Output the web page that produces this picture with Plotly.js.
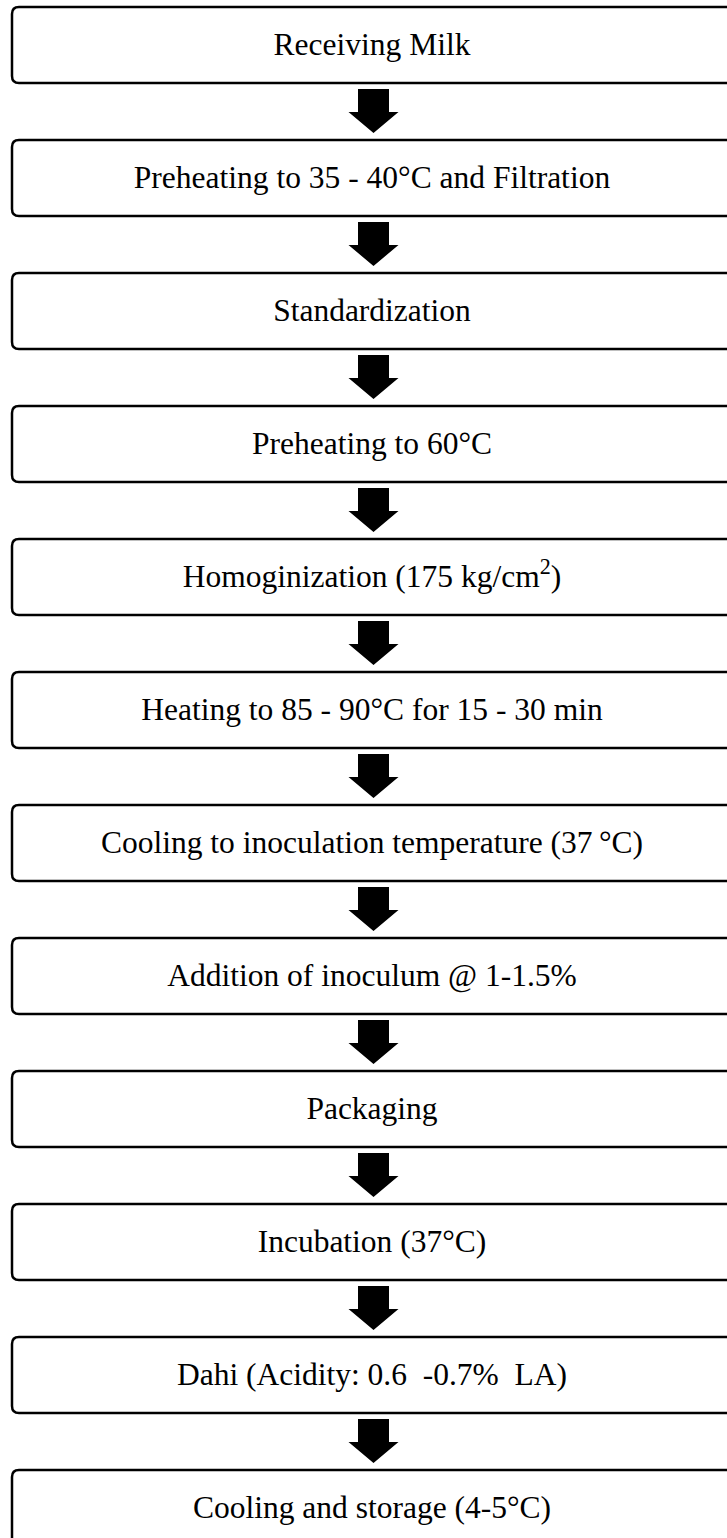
<!DOCTYPE html>
<html>
<head>
<meta charset="utf-8">
<script src="https://cdn.plot.ly/plotly-3.0.1.min.js"></script>
<style>
html,body{margin:0;padding:0;background:#fff;}
#chart{width:727px;height:1538px;}
</style>
</head>
<body>
<div id="chart"></div>
<script>
// Flowchart steps (top to bottom)
var steps = [
  "Receiving Milk",
  "Preheating to 35 - 40°C and Filtration",
  "Standardization",
  "Preheating to 60°C",
  "Homoginization (175 kg/cm<sup>2</sup>)",
  "Heating to 85 - 90°C for 15 - 30 min",
  "Cooling to inoculation temperature (37\u2009°C)",
  "Addition of inoculum @ 1-1.5%",
  "Packaging",
  "Incubation (37°C)",
  "Dahi (Acidity: 0.6 \u00A0-0.7% \u00A0LA)",
  "Cooling and storage (4-5°C)"
];
var stepOrder = [1,2,3,4,5,6,7,8,9,10,11,12];

// layout geometry (pixels in data units)
var W = 727, H = 1538;
var firstTop = 7, pitch = 133, boxH = 76;
var boxX0 = 12, boxX1 = 734, radius = 7;
var cx = 373.5;

function roundRect(x0, y0, x1, y1, r) {
  return 'M' + (x0 + r) + ',' + y0 +
    ' H' + (x1 - r) + ' Q' + x1 + ',' + y0 + ' ' + x1 + ',' + (y0 + r) +
    ' V' + (y1 - r) + ' Q' + x1 + ',' + y1 + ' ' + (x1 - r) + ',' + y1 +
    ' H' + (x0 + r) + ' Q' + x0 + ',' + y1 + ' ' + x0 + ',' + (y1 - r) +
    ' V' + (y0 + r) + ' Q' + x0 + ',' + y0 + ' ' + (x0 + r) + ',' + y0 + ' Z';
}
function arrow(yb) {
  var s0 = yb + 6, h0 = yb + 29, tip = yb + 50;
  var sw = 15.5, hw = 25;
  return 'M' + (cx - sw) + ',' + s0 + ' L' + (cx + sw) + ',' + s0 +
    ' L' + (cx + sw) + ',' + h0 + ' L' + (cx + hw) + ',' + h0 +
    ' L' + cx + ',' + tip + ' L' + (cx - hw) + ',' + h0 +
    ' L' + (cx - sw) + ',' + h0 + ' Z';
}

var shapes = [];
var textY = [], textX = [];
stepOrder.forEach(function (n, i) {
  var top = firstTop + pitch * i;
  var bot = top + boxH;
  shapes.push({
    type: 'path', xref: 'x', yref: 'y', path: roundRect(boxX0, top, boxX1, bot, radius),
    line: {color: '#000', width: 2.5}, fillcolor: 'rgba(0,0,0,0)', layer: 'below'
  });
  if (i < stepOrder.length - 1) {
    shapes.push({
      type: 'path', xref: 'x', yref: 'y', path: arrow(bot),
      line: {color: '#000', width: 0}, fillcolor: '#000'
    });
  }
  textX.push(372);
  textY.push(top + boxH / 2 + 2);
});

var trace = {
  type: 'scatter', mode: 'text', x: textX, y: textY, text: steps,
  textposition: 'middle center',
  textfont: {family: '"Liberation Serif", "Times New Roman", serif', size: 31.5, color: '#000'},
  hoverinfo: 'none', showlegend: false, cliponaxis: false
};

var layout = {
  width: W, height: H,
  margin: {l: 0, r: 0, t: 0, b: 0, pad: 0},
  paper_bgcolor: '#fff', plot_bgcolor: '#fff',
  xaxis: {range: [0, W], visible: false, fixedrange: true},
  yaxis: {range: [H, 0], visible: false, fixedrange: true},
  shapes: shapes, showlegend: false
};

Plotly.newPlot('chart', [trace], layout, {staticPlot: true, displayModeBar: false});
</script>
</body>
</html>
